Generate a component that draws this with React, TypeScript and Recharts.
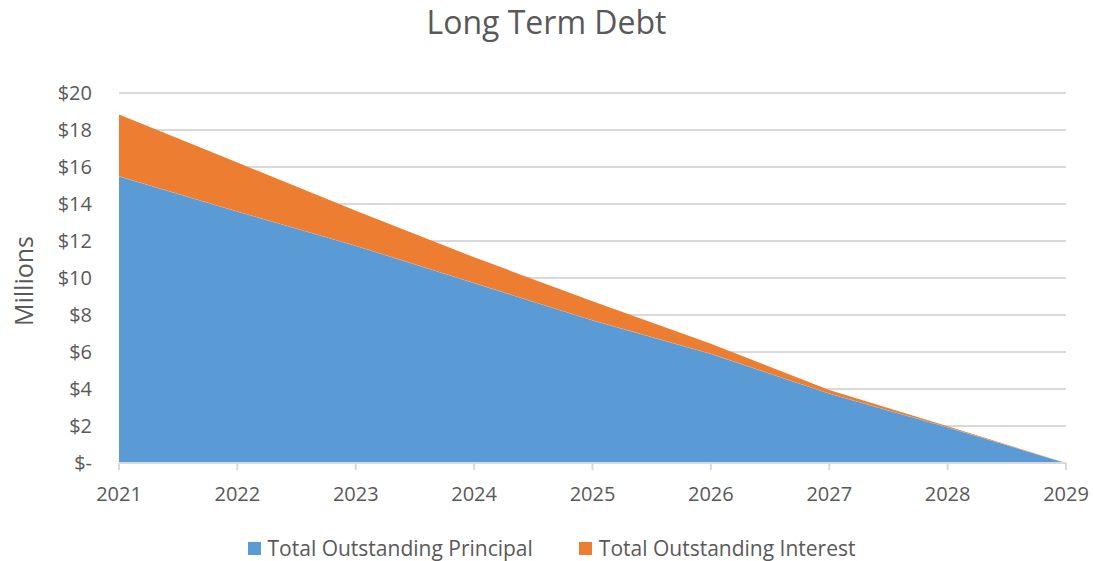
import {
  AreaChart,
  Area,
  XAxis,
  YAxis,
  CartesianGrid,
  Legend,
} from "recharts";

const years = ["2021", "2022", "2023", "2024", "2025", "2026", "2027", "2028", "2029"];
const principal = [15.5, 13.6, 11.75, 9.73, 7.72, 5.9, 3.76, 1.93, 0];
const interest = [3.34, 2.64, 1.89, 1.39, 1.02, 0.55, 0.18, 0.06, 0];
const yTicks = [0, 2, 4, 6, 8, 10, 12, 14, 16, 18, 20];

const data = years.map((year, i) => ({
  year,
  principal: principal[i],
  interest: interest[i],
}));

const textColor = "#595959";
const gridColor = "#d9d9d9";
const font = "'Open Sans', sans-serif";

function LegendContent() {
  const items = [
    { label: "Total Outstanding Principal", color: "#5b9bd5" },
    { label: "Total Outstanding Interest", color: "#ed7d31" },
  ];
  return (
    <div
      style={{
        display: "flex",
        justifyContent: "center",
        gap: 46,
        paddingTop: 15,
        paddingLeft: 18,
        fontFamily: font,
        fontSize: 21,
        color: textColor,
      }}
    >
      {items.map((item) => (
        <div key={item.label} style={{ display: "flex", alignItems: "center" }}>
          <span style={{ width: 13, height: 13, background: item.color, marginRight: 7, display: "inline-block" }} />
          {item.label}
        </div>
      ))}
    </div>
  );
}

export default function App() {
  return (
    <div style={{ position: "absolute", left: 0, top: 0, width: 1093, height: 561, background: "#fff" }}>
      <div
        style={{
          position: "absolute",
          top: 0,
          width: "100%",
          textAlign: "center",
          fontFamily: font,
          fontSize: 32,
          color: textColor,
        }}
      >
        Long Term Debt
      </div>
      <div
        style={{
          position: "absolute",
          left: 23,
          top: 281,
          transform: "translate(-50%, -50%) rotate(-90deg)",
          fontFamily: font,
          fontSize: 25,
          color: textColor,
          whiteSpace: "nowrap",
        }}
      >
        Millions
      </div>
      <AreaChart
        width={1093}
        height={561}
        data={data}
        margin={{ top: 93, right: 27, bottom: 0, left: 19 }}
      >
        <CartesianGrid stroke={gridColor} strokeWidth={2} vertical={false} />
        <XAxis
          dataKey="year"
          stroke={gridColor}
          strokeWidth={2}
          tickSize={7}
          tickMargin={17}
          height={56}
          tick={{ fill: textColor, fontSize: 20, fontFamily: font }}
        />
        <YAxis
          domain={[0, 20]}
          ticks={yTicks}
          width={100}
          axisLine={false}
          tickLine={false}
          tickMargin={21}
          tick={{ fill: textColor, fontSize: 20, fontFamily: font }}
          tickFormatter={(v: number) => (v === 0 ? "$-" : `$${v}`)}
        />
        <Legend verticalAlign="bottom" height={42} content={<LegendContent />} />
        <Area
          type="linear"
          dataKey="principal"
          stackId="debt"
          stroke="#ffffff"
          strokeOpacity={0.5}
          strokeWidth={0.5}
          fill="#5b9bd5"
          fillOpacity={1}
          isAnimationActive={false}
        />
        <Area
          type="linear"
          dataKey="interest"
          stackId="debt"
          stroke="none"
          fill="#ed7d31"
          fillOpacity={1}
          isAnimationActive={false}
        />
      </AreaChart>
    </div>
  );
}
